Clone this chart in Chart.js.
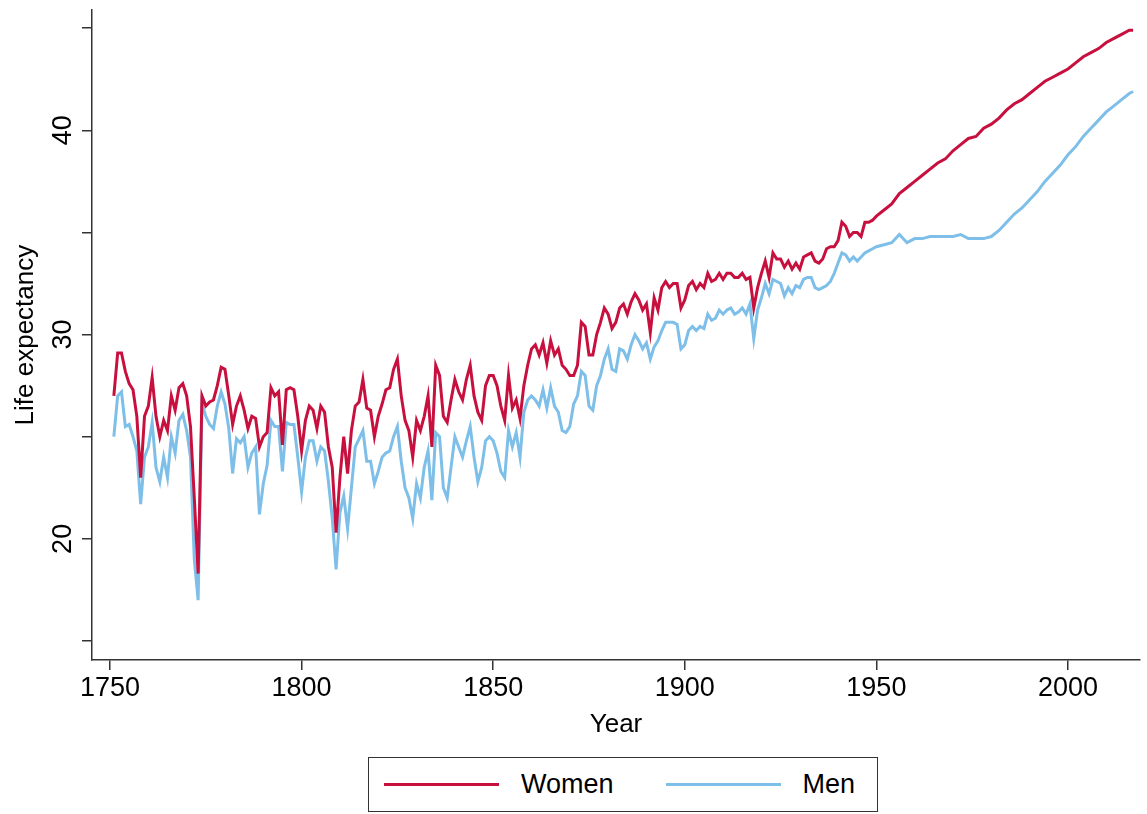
<!DOCTYPE html>
<html>
<head>
<meta charset="utf-8">
<script src="https://cdn.jsdelivr.net/npm/chart.js@4"></script>
<style>
  body { margin:0; background:#fff; font-family:Arial, "Liberation Sans", sans-serif; }
  #wrap { position:relative; width:1147px; height:814px; }
  #c { position:absolute; left:0; top:0; }
  #legend { position:absolute; left:368px; top:757px; width:510px; height:55px; border:1.5px solid #333; box-sizing:border-box;
    display:flex; align-items:center; font-size:27px; color:#000; }
  .item { display:flex; align-items:center; }
  .sw { width:115px; height:3px; margin:0 22px 0 15px; }
</style>
</head>
<body>
<div id="wrap">
  <canvas id="c" width="1147" height="740"></canvas>
  <div id="legend">
    <div class="item"><span class="sw" style="background:#c8103e"></span>Women</div>
    <div class="item" style="margin-left:37px"><span class="sw" style="background:#7dbfe8"></span>Men</div>
  </div>
</div>
<script>
// annual values 1751-1950, then selected years to 2017
const yearsEarly = [];
for (let y = 1751; y <= 1950; y++) yearsEarly.push(y);

const womenEarly = [
  27,29.1,29.1,28.2,27.6,27.3,26,23,26,26.5, 27.9,26,25,25.8,25.3,27,26.3,27.4,27.6,27,
  25.5,22,18.3,27,26.5,26.7,26.8,27.5,28.4,28.3, 27,25.6,26.5,27,26.3,25.4,26,25.9,24.5,25,
  25.2,27.4,27,27.2,24.6,27.3,27.4,27.3,26,24.3, 25.8,26.5,26.3,25.4,26.5,26.2,24.5,23.5,20.3,23,
  25,23.2,25.3,26.5,26.7,27.8,26.4,26.3,25,26, 26.6,27.3,27.4,28.3,28.8,27,25.8,25.3,24,25.8,
  25.3,26,27,24.5,28.5,28,26,25.7,26.8,27.8, 27.2,26.8,27.8,28.5,27,26.2,25.8,27.5,28,28,
  27.5,26.5,25.8,28,26.4,26.8,25.9,27.5,28.5,29.3, 29.5,29,29.6,28.6,29.7,29,29.3,28.5,28.3,28,
  28,28.5,30.6,30.4,29,29,30,30.6,31.3,31, 30.3,30.6,31.3,31.5,31,31.6,32,31.7,31.2,31.5,
  30.1,31.8,31.2,32.3,32.6,32.3,32.5,32.5,31.3,31.7, 32.4,32.6,32.2,32.5,32.3,33,32.6,32.7,33,32.7,
  33,33,32.8,32.8,33,32.7,32.8,31.3,32.3,33, 33.6,32.8,34,33.7,33.7,33.3,33.6,33.2,33.5,33.2,
  33.8,33.9,34,33.6,33.5,33.7,34.2,34.3,34.3,34.6, 35.5,35.3,34.8,35,35,34.8,35.5,35.5,35.6,35.8
];
const menEarly = [
  25,27,27.2,25.5,25.6,25,24.3,21.7,24,24.5, 25.7,23.5,22.8,24,23,25,24.2,25.8,26.1,25.3,
  24,19,17,26.6,26,25.6,25.4,26.5,27.2,26.6, 25.4,23.2,24.9,24.7,25,23.5,24.2,24.5,21.2,22.7,
  23.6,25.8,25.5,25.5,23.3,25.7,25.6,25.6,24,22.3, 24,24.8,24.8,23.8,24.5,24.3,22.8,21,18.5,21.3,
  22.1,20.5,22.5,24.5,24.9,25.3,23.8,23.8,22.7,23.3, 24,24.2,24.3,25,25.5,23.8,22.5,22,21,22.7,
  22,23.5,24.3,21.9,25.2,25,22.5,22,23.5,25, 24.5,24,24.8,25.5,24,22.8,23.5,24.8,25,24.8,
  24.2,23.3,23,25.3,24.5,25.2,24,26.2,26.8,27, 26.8,26.5,27.3,26.4,27.4,26.5,26.2,25.3,25.2,25.5,
  26.6,27,28.2,28,26.5,26.3,27.5,28,28.8,29.3, 28.3,28.2,29.3,29.2,28.8,29.5,30,29.7,29.3,29.6,
  28.8,29.4,29.7,30.2,30.6,30.6,30.6,30.5,29.3,29.5, 30.2,30.4,30.2,30.4,30.3,31,30.7,30.8,31.2,31,
  31.2,31.3,31,31.1,31.3,31,31.5,29.8,31.2,31.8, 32.5,32,32.7,32.6,32.5,31.9,32.3,32,32.4,32.3,
  32.7,32.8,32.8,32.3,32.2,32.3,32.4,32.6,33,33.5, 34,33.9,33.6,33.8,33.6,33.8,34,34.1,34.2,34.3
];

const yearsLate = [1952,1954,1956,1958,1960,1962,1964,1966,1968,1970,1972,1974,1976,1978,1980,1982,1984,1986,1988,1990,1992,1994,1996,1998,2000,2002,2004,2006,2008,2010,2012,2014,2016,2017];
const womenLate = [36.1,36.4,36.9,37.2,37.5,37.8,38.1,38.4,38.6,39.0,39.3,39.6,39.7,40.1,40.3,40.6,41.0,41.3,41.5,41.8,42.1,42.4,42.6,42.8,43.0,43.3,43.6,43.8,44.0,44.3,44.5,44.7,44.9,44.9];
const menLate   = [34.4,34.5,34.9,34.5,34.7,34.7,34.8,34.8,34.8,34.8,34.9,34.7,34.7,34.7,34.8,35.1,35.5,35.9,36.2,36.6,37.0,37.5,37.9,38.3,38.8,39.2,39.7,40.1,40.5,40.9,41.2,41.5,41.8,41.9];

const yTicks = [15,20,25,30,35,40,45];
const yLabels = [20,30,40];
const xTicks = [1750,1800,1850,1900,1950,2000];

const pts = (ys, vs) => ys.map((x, i) => ({ x, y: vs[i] }));
const women = pts(yearsEarly, womenEarly).concat(pts(yearsLate, womenLate));
const men = pts(yearsEarly, menEarly).concat(pts(yearsLate, menLate));

const FONT = 'Arial, "Liberation Sans", sans-serif';

// Stata-style rotated y labels
const rotY = {
  id: 'rotY',
  afterDraw(chart) {
    const s = chart.scales.y, ctx = chart.ctx;
    ctx.save();
    ctx.fillStyle = '#000';
    ctx.font = '27px ' + FONT;
    ctx.textAlign = 'center';
    ctx.textBaseline = 'bottom';
    for (const v of yLabels) {
      ctx.save();
      ctx.translate(s.right - 15, s.getPixelForValue(v));
      ctx.rotate(-Math.PI / 2);
      ctx.fillText(String(v), 0, 0);
      ctx.restore();
    }
    ctx.restore();
  }
};

new Chart(document.getElementById('c'), {
  type: 'line',
  data: {
    datasets: [
      { label: 'Women', data: women, borderColor: '#c8103e', borderWidth: 3, pointRadius: 0, tension: 0, order: 0 },
      { label: 'Men', data: men, borderColor: '#7dbfe8', borderWidth: 3, pointRadius: 0, tension: 0, order: 1 },
    ]
  },
  options: {
    responsive: false,
    animation: false,
    layout: { padding: { top: 8, right: 7, left: 10, bottom: 0 } },
    plugins: { legend: { display: false }, tooltip: { enabled: false } },
    scales: {
      x: {
        type: 'linear', min: 1745.3, max: 2018.8,
        afterBuildTicks: s => { s.ticks = xTicks.map(v => ({ value: v })); },
        afterFit: s => { s.height = 80; },
        grid: { drawOnChartArea: false, tickLength: 10, color: '#333', lineWidth: 1.5 },
        border: { color: '#333', width: 1.5 },
        ticks: { color: '#000', font: { size: 27, family: FONT }, maxRotation: 0, padding: 2, callback: v => v },
        title: { display: true, text: 'Year', color: '#000', font: { size: 26, family: FONT }, padding: { top: -8, bottom: 0 } }
      },
      y: {
        min: 14.07, max: 45.88,
        afterBuildTicks: s => { s.ticks = yTicks.map(v => ({ value: v })); },
        afterFit: s => { s.width = 82; },
        grid: { drawOnChartArea: false, tickLength: 10, color: '#333', lineWidth: 1.5 },
        border: { color: '#333', width: 1.5 },
        ticks: { callback: () => '' },
        title: { display: true, text: 'Life expectancy', color: '#000', font: { size: 26, family: FONT }, padding: 0 }
      }
    }
  },
  plugins: [rotY]
});
</script>
</body>
</html>
